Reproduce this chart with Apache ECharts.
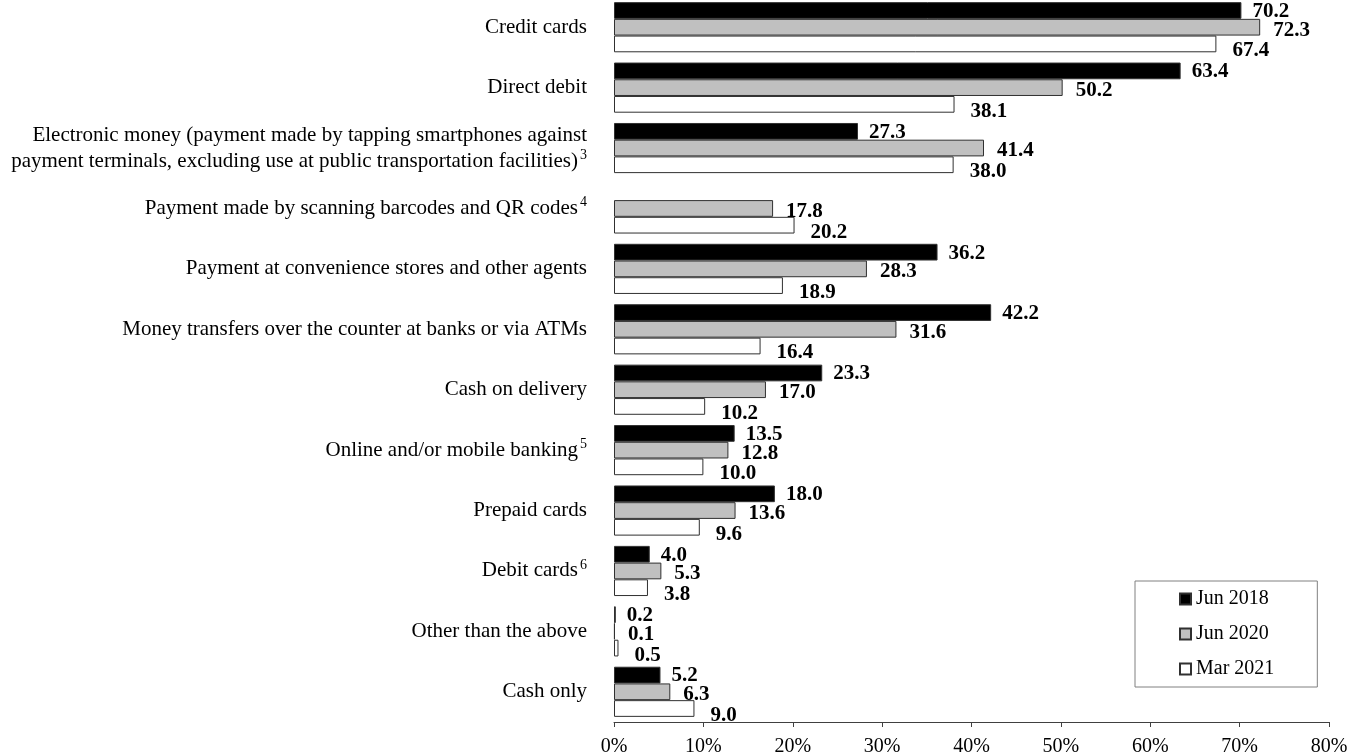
<!DOCTYPE html>
<html>
<head>
<meta charset="utf-8">
<script src="https://cdn.jsdelivr.net/npm/echarts@6/dist/echarts.min.js"></script>
<style>
html,body{margin:0;padding:0;background:#fff;}
#chart{width:1347px;height:755px;}
</style>
</head>
<body>
<div id="chart"></div>
<script>
const categories = [
  'Credit cards',
  'Direct debit',
  'Electronic money (payment made by tapping smartphones against\npayment terminals, excluding use at public transportation facilities)',
  'Payment made by scanning barcodes and QR codes',
  'Payment at convenience stores and other agents',
  'Money transfers over the counter at banks or via ATMs',
  'Cash on delivery',
  'Online and/or mobile banking',
  'Prepaid cards',
  'Debit cards',
  'Other than the above',
  'Cash only'
];
const footnotes = ['', '', '3', '4', '', '', '', '5', '', '6', '', ''];
const seriesNames = ['Jun 2018', 'Jun 2020', 'Mar 2021'];
const jun2018 = [70.2, 63.4, 27.3, null, 36.2, 42.2, 23.3, 13.5, 18.0, 4.0, 0.2, 5.2];
const jun2020 = [72.3, 50.2, 41.4, 17.8, 28.3, 31.6, 17.0, 12.8, 13.6, 5.3, 0.1, 6.3];
const mar2021 = [67.4, 38.1, 38.0, 20.2, 18.9, 16.4, 10.2, 10.0, 9.6, 3.8, 0.5, 9.0];
const xTicks = [0, 10, 20, 30, 40, 50, 60, 70, 80];

const FONT = '"Liberation Serif", "Times New Roman", serif';
const chart = echarts.init(document.getElementById('chart'));

function makeLabel(dx, dy) {
  return {
    show: true,
    position: 'right',
    offset: [dx, dy],
    distance: 0,
    color: '#000',
    fontFamily: FONT,
    fontWeight: 'bold',
    fontSize: 21,
    formatter: p => (p.value == null ? '' : Number(p.value).toFixed(1))
  };
}

const fills = ['#000000', '#c0c0c0', '#ffffff'];
const datasets = [jun2018, jun2020, mar2021];
const offsets = [[11, 1], [13, 3], [16, 7]];

chart.setOption({
  backgroundColor: '#ffffff',
  animation: false,
  textStyle: { fontFamily: FONT },
  grid: { left: 614, right: 18, top: -3, bottom: 33, containLabel: false, outerBoundsMode: 'none' },
  legend: {
    orient: 'vertical',
    left: 1135,
    top: 581,
    data: seriesNames,
    backgroundColor: '#fff',
    borderColor: '#808080',
    borderWidth: 1,
    padding: [8, 43, 8, 44],
    itemWidth: 11,
    itemHeight: 11,
    itemGap: 15,
    icon: 'rect',
    textStyle: { fontFamily: FONT, fontSize: 20, color: '#000' }
  },
  xAxis: {
    type: 'value',
    min: 0,
    max: 80,
    interval: 10,
    axisLine: { show: true, lineStyle: { color: '#404040', width: 1 } },
    axisTick: { show: true, length: 5, lineStyle: { color: '#404040' } },
    splitLine: { show: false },
    axisLabel: {
      color: '#000',
      fontFamily: FONT,
      fontSize: 20,
      margin: 15,
      formatter: v => (xTicks.indexOf(v) >= 0 ? v + '%' : '')
    }
  },
  yAxis: {
    type: 'category',
    inverse: true,
    data: categories,
    axisLine: { show: false },
    axisTick: { show: false },
    axisLabel: {
      margin: 27,
      align: 'right',
      color: '#000',
      fontFamily: FONT,
      fontSize: 21,
      lineHeight: 26,
      formatter: (value, idx) => {
        const lines = value.split('\n');
        const fn = footnotes[idx];
        return lines.map((l, i) => '{t|' + l + '}' + (i === lines.length - 1 && fn ? '{s|' + fn + '}' : '')).join('\n');
      },
      rich: {
        t: { fontFamily: FONT, fontSize: 21, color: '#000', lineHeight: 26 },
        s: { fontFamily: FONT, fontSize: 14, color: '#000', lineHeight: 12, verticalAlign: 'top', padding: [0, 0, 0, 2] }
      }
    }
  },
  series: datasets.map((d, i) => ({
    name: seriesNames[i],
    type: 'bar',
    data: d,
    barGap: '0%',
    barCategoryGap: '17%',
    itemStyle: { color: fills[i], borderColor: '#303030', borderWidth: 1 },
    label: makeLabel(offsets[i][0], offsets[i][1])
  }))
});
</script>
</body>
</html>
